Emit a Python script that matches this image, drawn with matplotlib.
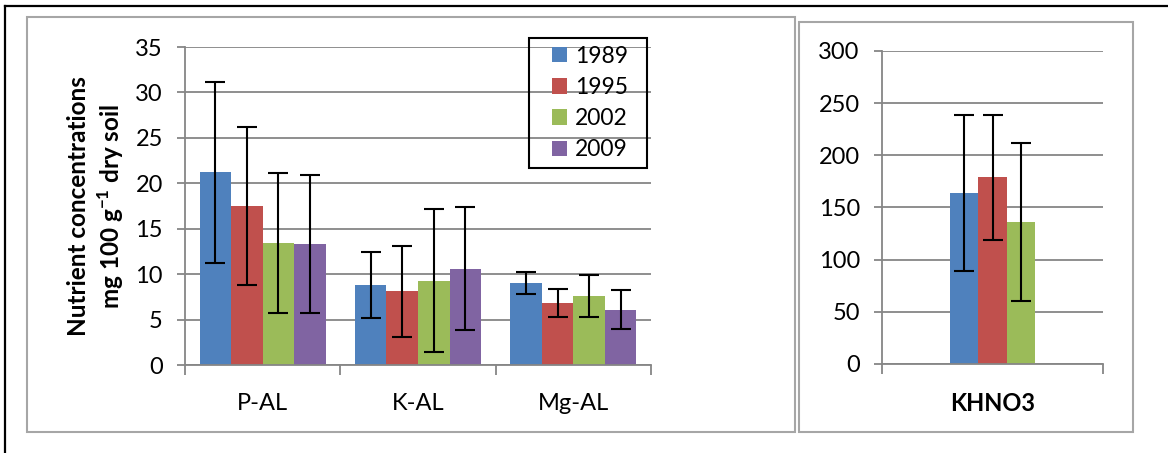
import numpy as np
import matplotlib.pyplot as plt
from matplotlib.patches import Rectangle
from matplotlib.lines import Line2D

plt.rcParams['font.family'] = ['Lato', 'DejaVu Sans']
plt.rcParams['mathtext.fontset'] = 'custom'
plt.rcParams['mathtext.rm'] = 'Lato'
plt.rcParams['mathtext.bf'] = 'Lato:bold'

# data
years = ['1989', '1995', '2002', '2009']
nutrients = ['P-AL', 'K-AL', 'Mg-AL']
means = {
    '1989': [21.2, 8.8, 9.0],
    '1995': [17.5, 8.1, 6.8],
    '2002': [13.4, 9.3, 7.6],
    '2009': [13.3, 10.6, 6.1],
}
errs = {
    '1989': [10.0, 3.6, 1.2],
    '1995': [8.7, 5.0, 1.55],
    '2002': [7.7, 7.9, 2.35],
    '2009': [7.6, 6.8, 2.1],
}
khno3_years = ['1989', '1995', '2002']
khno3_mean = [164, 179, 136]
khno3_err = [75, 60, 76]

colors = {'1989': '#4F81BD', '1995': '#C0504D', '2002': '#9BBB59', '2009': '#8064A2'}
grid_c = '#868686'

W, H = 1168, 453
fig = plt.figure(figsize=(W / 100, H / 100), dpi=100)


def px_rect(x0, y0, x1, y1):
    return [x0 / W, 1 - y1 / H, (x1 - x0) / W, (y1 - y0) / H]


def px_box(x0, y0, x1, y1, **kw):
    r = px_rect(x0, y0, x1, y1)
    fig.add_artist(Rectangle((r[0], r[1]), r[2], r[3], transform=fig.transFigure,
                             fill=False, **kw))


# frames
fig.add_artist(Line2D([5 / W, 1], [1 - 6 / H, 1 - 6 / H], color='black', lw=1.6))
fig.add_artist(Line2D([5 / W, 5 / W], [0, 1 - 6 / H], color='black', lw=1.6))
px_box(27, 17, 795, 432, edgecolor='#a6a6a6', lw=1.5)
px_box(799, 22, 1133, 432, edgecolor='#a6a6a6', lw=1.5)


def style_axes(ax, ymax, step, edges):
    ax.set_ylim(0, ymax)
    ax.set_yticks(np.arange(0, ymax + 1, step))
    ax.yaxis.grid(True, color=grid_c, lw=1.3)
    ax.set_axisbelow(True)
    for s in ['top', 'right']:
        ax.spines[s].set_visible(False)
    for s in ['left', 'bottom']:
        ax.spines[s].set_color(grid_c)
        ax.spines[s].set_linewidth(1.3)
    ax.tick_params(axis='y', length=6, width=1.3, color=grid_c, labelsize=17, pad=10)
    ax.tick_params(axis='x', which='major', length=0, labelsize=17, pad=20)
    ax.set_xticks(edges, minor=True)
    ax.tick_params(axis='x', which='minor', length=7, width=1.3, color=grid_c)


# left panel
ax = fig.add_axes(px_rect(185, 47, 651, 365))
x = np.arange(len(nutrients))
bw = 0.203
for i, yr in enumerate(years):
    ax.bar(x + (i - 1.5) * bw, means[yr], bw, color=colors[yr], label=yr,
           yerr=errs[yr], error_kw=dict(ecolor='black', lw=1.5, capsize=7.5, capthick=1.5))
ax.set_xlim(-0.5, 2.5)
ax.set_xticks(x)
ax.set_xticklabels(nutrients)
style_axes(ax, 35, 5, [-0.5, 0.5, 1.5, 2.5])
fig.text(78 / W, 1 - 206 / H, 'Nutrient concentrations', rotation=90, fontsize=17.5,
         fontweight='bold', ha='center', va='center')
fig.text(111 / W, 1 - 206 / H, r'mg 100 g$^{\mathbf{-1}}$ dry soil', rotation=90, fontsize=17.5,
         fontweight='bold', ha='center', va='center')

# legend box drawn separately so the padding can match
leg = ax.legend(loc='center', bbox_to_anchor=(590 / W, 1 - 103 / H),
                bbox_transform=fig.transFigure, fontsize=16.5, frameon=False,
                handlelength=0.68, handleheight=0.68, handletextpad=0.35,
                labelspacing=0.45, borderpad=0, borderaxespad=0)
px_box(529, 38, 647, 168, edgecolor='black', lw=1.5, zorder=10)

# right panel
ax2 = fig.add_axes(px_rect(882, 51, 1103, 364))
bw2 = 0.127
for i, yr in enumerate(khno3_years):
    ax2.bar((i - 1) * bw2, khno3_mean[i], bw2, color=colors[yr],
            yerr=khno3_err[i], error_kw=dict(ecolor='black', lw=1.5, capsize=7.5, capthick=1.5))
ax2.set_xlim(-0.5, 0.5)
ax2.set_xticks([0])
ax2.set_xticklabels(['KHNO3'], fontweight='bold')
style_axes(ax2, 300, 50, [-0.5, 0.5])

fig.savefig('out.png', dpi=100)
